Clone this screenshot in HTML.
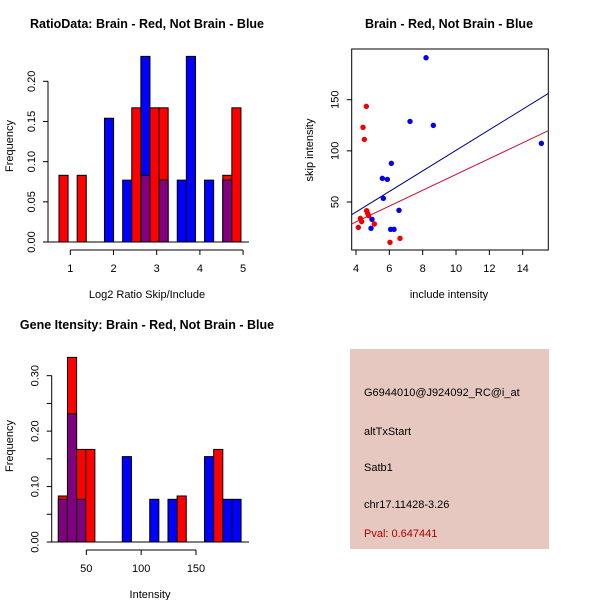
<!DOCTYPE html>
<html><head><meta charset="utf-8"><style>
body{margin:0;background:#fff}
svg{display:block;font-family:"Liberation Sans",sans-serif}
</style></head><body>
<svg id="c" width="600" height="600" viewBox="0 0 600 600">
<rect width="600" height="600" fill="#fff"/>
<text x="147" y="28" font-size="12.5" font-weight="bold" text-anchor="middle">RatioData: Brain - Red, Not Brain - Blue</text>
<text x="449" y="28" font-size="12.5" font-weight="bold" text-anchor="middle">Brain - Red, Not Brain - Blue</text>
<text x="147" y="329" font-size="12.5" font-weight="bold" text-anchor="middle">Gene Itensity: Brain - Red, Not Brain - Blue</text>
<text x="147" y="298" font-size="11" text-anchor="middle">Log2 Ratio Skip/Include</text>
<text x="150" y="598" font-size="11" text-anchor="middle">Intensity</text>
<text x="449" y="298" font-size="11" text-anchor="middle">include intensity</text>
<text transform="translate(13,146) rotate(-90)" font-size="11" text-anchor="middle">Frequency</text>
<text transform="translate(13,446) rotate(-90)" font-size="11" text-anchor="middle">Frequency</text>
<text transform="translate(313,150) rotate(-90)" font-size="11" text-anchor="middle">skip intensity</text>
<g id="h1"></g>
<g id="h2"></g>
<g id="sc"></g>
<g>
<rect x="350" y="349" width="199" height="200" fill="#e6c8c0"/>
<text x="364" y="396" font-size="11">G6944010@J924092_RC@i_at</text>
<text x="364" y="435" font-size="11">altTxStart</text>
<text x="364" y="471" font-size="11">Satb1</text>
<text x="364" y="508" font-size="11">chr17.11428-3.26</text>
<text x="364" y="537" font-size="11" fill="#b00000">Pval: 0.647441</text>
</g>
</svg>
<script>
// Ratio histogram data
const h1Start = 0.738, h1Width = 0.2106;
const h1Red = [0.083,0,0.083,0,0,0,0,0,0.167,0.083,0.167,0.167,0,0,0,0,0,0,0.083,0.167];
const h1Blue = [0,0,0,0,0,0.154,0,0.077,0,0.231,0,0.077,0,0.077,0.231,0,0.077,0,0.077,0];
const h1YTicks = [0,0.05,0.10,0.15,0.20];
const h1YLabels = ["0.00","0.05","0.10","0.15","0.20"];
const h1XTicks = [1,2,3,4,5];
// Intensity histogram data
const h2Start = 24.5, h2Width = 8.33;
const h2Red = [0.083,0.333,0.167,0.167,0,0,0,0,0,0,0,0,0,0.083,0,0,0,0.167,0,0];
const h2Blue = [0.077,0.231,0.077,0,0,0,0,0.154,0,0,0.077,0,0.077,0,0,0,0.154,0,0.077,0.077];
const h2YTicks = [0,0.05,0.10,0.15,0.20,0.25,0.30];
const h2YLabels = ["0.00","","0.10","","0.20","","0.30"];
const h2XTicks = [50,100,150];
// Scatter data
const blueX = [8.2,7.24,8.64,15.12,6.12,5.58,5.88,5.64,6.58,4.96,4.9,6.08,6.28];
const blueY = [191,128.8,124.9,107.3,87.8,73.1,72.1,53.6,41.9,33.1,24.3,23.3,23.3];
const redX = [4.62,4.42,4.5,4.64,4.7,4.76,4.26,4.34,5.1,4.14,6.64,6.04];
const redY = [143.5,123,111.2,41.5,38.9,36.6,34,30.8,28.5,25.2,14.5,10.6];
const fitSlopes = [10.05,7.73];
const fitIntercepts = [0,-0.4];
const scXTicks = [4,6,8,10,12,14];
const scYTicks = [50,100,150];

const NS="http://www.w3.org/2000/svg";
function mk(parent,tag,attrs){const e=document.createElementNS(NS,tag);for(const k in attrs)e.setAttribute(k,attrs[k]);parent.appendChild(e);return e;}

function hist(g,start,w,red,blue,sx,sy,yTicks,yLabels,xTicks,xAxisY,yAxisX,name){
  const base=sy(0);
  for(let i=0;i<red.length;i++){
    const x0=sx(start+i*w), x1=sx(start+(i+1)*w);
    const r=red[i], b=blue[i];
    const draw=(v,col,nm)=>{const e=mk(g,'rect',{x:x0,y:sy(v),width:x1-x0,height:base-sy(v),fill:col,stroke:'#000','stroke-width':1});
      
      };
    if(r>0&&b>0){
      if(r>=b)draw(r,'#ff0000',name+'-red-bar-'+i);else draw(b,'#0000ff',name+'-blue-bar-'+i);
      draw(Math.min(r,b),'#800080',name+'-overlap-bar-'+i);
    }else if(r>0)draw(r,'#ff0000',name+'-red-bar-'+i);
    else if(b>0)draw(b,'#0000ff',name+'-blue-bar-'+i);
  }
  const bl=mk(g,'line',{x1:sx(start)-11,x2:sx(start+red.length*w)+8,y1:base,y2:base,stroke:'#000'});
  
  
  const ya=mk(g,'line',{x1:yAxisX,x2:yAxisX,y1:sy(yTicks[0]),y2:sy(yTicks[yTicks.length-1]),stroke:'#000'});
  
  
  yTicks.forEach((t,i)=>{
    mk(g,'line',{x1:yAxisX-5,x2:yAxisX,y1:sy(t),y2:sy(t),stroke:'#000'});
    if(yLabels[i]){const tx=mk(g,'text',{transform:`translate(${yAxisX-13},${sy(t)}) rotate(-90)`,'font-size':11,'text-anchor':'middle'});tx.textContent=yLabels[i];
      
      }
  });
  const xa=mk(g,'line',{x1:sx(xTicks[0]),x2:sx(xTicks[xTicks.length-1]),y1:xAxisY,y2:xAxisY,stroke:'#000'});
  
  
  xTicks.forEach(t=>{
    mk(g,'line',{x1:sx(t),x2:sx(t),y1:xAxisY,y2:xAxisY+5,stroke:'#000'});
    const tx=mk(g,'text',{x:sx(t),y:xAxisY+22,'font-size':11,'text-anchor':'middle'});tx.textContent=t;
    
    
  });
}
hist(document.getElementById('h1'),h1Start,h1Width,h1Red,h1Blue,
  v=>70.3+(v-1)*43.2, v=>242-v*803.5, h1YTicks,h1YLabels,h1XTicks,250,48,'ratio');
hist(document.getElementById('h2'),h2Start,h2Width,h2Red,h2Blue,
  v=>86.3+(v-50)*1.097, v=>542-v*554.4, h2YTicks,h2YLabels,h2XTicks,550,51.7,'intensity');

// scatter
(function(){
  const g=document.getElementById('sc');
  const sx=v=>356+(v-4)*16.67, sy=v=>202-(v-50)*1.023;
  const L=351.7,R=548.3,T=49,B=250;
  const box=mk(g,'rect',{x:L,y:T,width:R-L,height:B-T,fill:'none',stroke:'#000'});
  
  
  const x0=(L-356)/16.67+4, x1=(R-356)/16.67+4;
  const cols=['#00008b','#c8102e'];
  fitSlopes.forEach((s,i)=>{
    const ln=mk(g,'line',{x1:L,x2:R,y1:sy(fitIntercepts[i]+s*x0),y2:sy(fitIntercepts[i]+s*x1),stroke:cols[i],'stroke-width':1});
    
    
  });
  blueX.forEach((x,i)=>{const c=mk(g,'circle',{cx:sx(x),cy:sy(blueY[i]),r:2.7,fill:'#0000ee'});
    
    });
  redX.forEach((x,i)=>{const c=mk(g,'circle',{cx:sx(x),cy:sy(redY[i]),r:2.7,fill:'#ee0000'});
    
    });
  scXTicks.forEach(t=>{
    mk(g,'line',{x1:sx(t),x2:sx(t),y1:B,y2:B+5,stroke:'#000'});
    const tx=mk(g,'text',{x:sx(t),y:B+22,'font-size':11,'text-anchor':'middle'});tx.textContent=t;
    
    
  });
  scYTicks.forEach(t=>{
    mk(g,'line',{x1:L-5,x2:L,y1:sy(t),y2:sy(t),stroke:'#000'});
    const tx=mk(g,'text',{transform:`translate(${L-13},${sy(t)}) rotate(-90)`,'font-size':11,'text-anchor':'middle'});tx.textContent=t;
    
    
  });
})();
</script>
</body></html>
